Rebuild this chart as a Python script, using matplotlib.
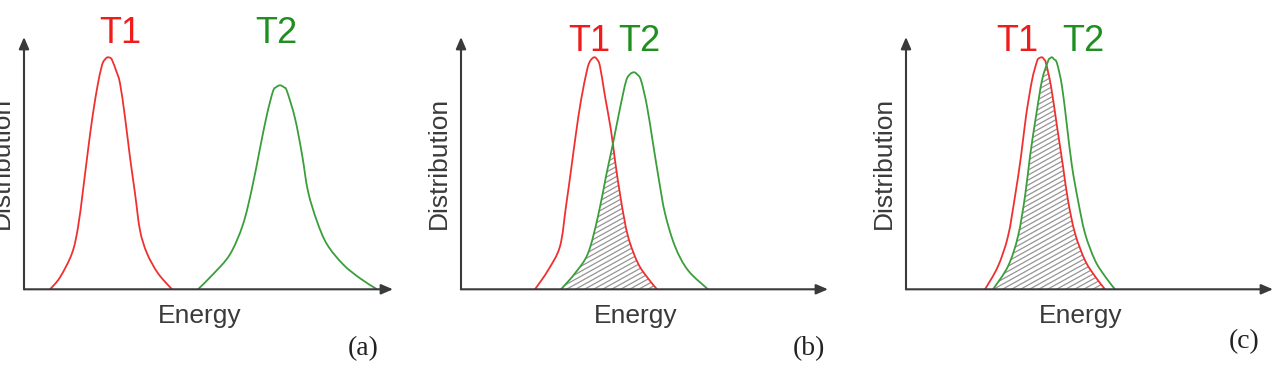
import matplotlib
matplotlib.use("Agg")
import numpy as np
import matplotlib.pyplot as plt
from matplotlib.path import Path
from matplotlib.patches import PathPatch
from matplotlib.collections import LineCollection

plt.rcParams["font.family"] = ["Liberation Sans", "DejaVu Sans"]

# Traced curves: energy (arbitrary units) and distribution height
# panel (a): well separated
a_t1_energy = [26, 36, 48, 54, 59, 64, 69, 74, 77, 79, 82, 84, 87, 89, 92, 96, 101, 106, 111, 116, 123, 134, 148]
a_t1_dist = [0, 12, 36, 62, 99, 139, 176, 206, 220, 227, 231, 232, 231, 227, 219, 206, 172, 132, 96, 59, 36, 16, 0]
a_t2_energy = [174, 189, 206, 219, 228, 236, 243, 249, 252, 256, 260, 263, 271, 278, 284, 293, 303, 319, 336, 353]
a_t2_dist = [0, 15, 35, 65, 101, 141, 175, 198, 202, 204, 202, 198, 171, 135, 98, 68, 45, 25, 11, 0]

# panel (b): partial overlap
b_t1_energy = [74, 87, 99, 105, 110, 115, 120, 126, 129, 133, 136, 139, 144, 150, 154, 160, 167, 177, 187, 196]
b_t1_dist = [0, 19, 43, 83, 119, 156, 189, 219, 228, 232, 230, 223, 193, 159, 129, 89, 53, 26, 11, 0]
b_t2_energy = [100, 114, 127, 137, 145, 152, 159, 165, 169, 173, 176, 180, 186, 192, 198, 204, 214, 227, 247]
b_t2_dist = [0, 16, 36, 73, 113, 146, 181, 208, 215, 217, 215, 209, 183, 146, 109, 76, 43, 19, 0]

# panel (c): almost full overlap
c_t1_energy = [79, 92, 102, 109, 115, 120, 126, 131, 133, 136, 138, 140, 145, 151, 157, 162, 169, 179, 189, 199]
c_t1_dist = [0, 23, 53, 93, 133, 173, 209, 228, 231, 232, 230, 226, 203, 163, 123, 89, 56, 29, 13, 0]
c_t2_energy = [87, 102, 112, 119, 124, 130, 136, 142, 144, 146, 148, 151, 156, 161, 166, 172, 179, 189, 199, 209]
c_t2_dist = [0, 23, 53, 93, 133, 173, 209, 228, 231, 232, 230, 226, 203, 163, 123, 89, 56, 29, 13, 0]

panel_tags = ["(a)", "(b)", "(c)"]

RED = "#f03030"
GREEN = "#3a9e3a"
RED_TXT = "#f01c1c"
GREEN_TXT = "#1f8f1f"
AXC = "#3a3a3a"
HATCH = "#959595"

W, H = 1276, 375
BASE = 289.3
TOP = 37

fig = plt.figure(figsize=(W / 100, H / 100), dpi=100)


def fx(px):
    return px / W


def fy(py):
    return 1 - py / H


def smooth_path(xs, ys):
    # catmull-rom through the traced points, as cubic bezier segments
    pts = np.column_stack([xs, ys]).astype(float)
    n = len(pts)
    verts = [pts[0]]
    codes = [Path.MOVETO]
    for i in range(n - 1):
        p0 = pts[max(i - 1, 0)]
        p1 = pts[i]
        p2 = pts[i + 1]
        p3 = pts[min(i + 2, n - 1)]
        verts += [p1 + (p2 - p0) / 6, p2 - (p3 - p1) / 6, p2]
        codes += [Path.CURVE4] * 3
    return verts, codes


def closed(xs, ys):
    v, c = smooth_path(xs, ys)
    return Path(v + [v[0]], c + [Path.CLOSEPOLY])


def draw_panel(x0, x1, e1, d1, e2, d2, overlap, t1x, t2x, tly, ex, tag, tagx, tagy):
    w, h = x1 - x0, BASE - TOP
    ax = fig.add_axes([fx(x0), fy(BASE), w / W, h / H])
    ax.set_xlim(0, w)
    ax.set_ylim(0, h)
    ax.axis("off")

    if overlap:
        red_shape = PathPatch(closed(e1, d1), transform=ax.transData)
        # hatch lines, clipped to the area under T1
        k = np.tan(np.radians(29))
        segs = [[(0, c), (w, c + k * w)] for c in np.arange(-k * w, h, 5.0)]
        hatch = LineCollection(segs, colors=HATCH, linewidths=0.9, zorder=1)
        ax.add_collection(hatch)
        hatch.set_clip_path(red_shape)
        # white out everything under T1 that is not under T2
        gv, gc = smooth_path(e2, d2)
        rect = [(-20, -20), (w + 20, -20), (w + 20, h + 20), (-20, h + 20), (-20, -20)]
        rc = [Path.MOVETO, Path.LINETO, Path.LINETO, Path.LINETO, Path.CLOSEPOLY]
        # green outline goes clockwise, rectangle anticlockwise -> hole
        mask = PathPatch(Path(rect + gv + [gv[0]], rc + gc + [Path.CLOSEPOLY]),
                         facecolor="white", edgecolor="none", zorder=1.5)
        ax.add_patch(mask)
        mask.set_clip_path(PathPatch(closed(e1, d1), transform=ax.transData))

    v1, c1 = smooth_path(e1, d1)
    v2, c2 = smooth_path(e2, d2)
    ax.add_patch(PathPatch(Path(v1, c1), fill=False, edgecolor=RED, lw=1.3,
                           clip_on=False, zorder=3))
    ax.add_patch(PathPatch(Path(v2, c2), fill=False, edgecolor=GREEN, lw=1.3,
                           clip_on=False, zorder=3))

    arrow = dict(arrowstyle="-|>,head_length=0.7,head_width=0.3", lw=1.5,
                 color=AXC, shrinkA=0, shrinkB=0)
    ax.annotate("", xy=(w, 0), xytext=(0, 0), arrowprops=arrow,
                annotation_clip=False, zorder=4)
    ax.annotate("", xy=(0, h), xytext=(0, 0), arrowprops=arrow,
                annotation_clip=False, zorder=4)

    fig.text(fx(t1x), fy(tly), "T1", color=RED_TXT, fontsize=26, ha="center", va="baseline")
    fig.text(fx(t2x), fy(tly), "T2", color=GREEN_TXT, fontsize=26, ha="center", va="baseline")
    fig.text(fx(ex), fy(323), "Energy", color=AXC, fontsize=19, ha="center", va="baseline")
    fig.text(fx(x0 - 10.5), fy(163), "Distribution", color=AXC, fontsize=19,
             rotation=90, ha="right", va="center")
    fig.text(fx(tagx), fy(tagy), tag, fontsize=20, family="Liberation Serif",
             color="#222222", ha="center", va="baseline")


draw_panel(24, 393, a_t1_energy, a_t1_dist, a_t2_energy, a_t2_dist, False,
           120, 276, 43, 200, panel_tags[0], 363, 355)
draw_panel(461, 828, b_t1_energy, b_t1_dist, b_t2_energy, b_t2_dist, True,
           589, 639, 51, 636, panel_tags[1], 809, 355)
draw_panel(906, 1273, c_t1_energy, c_t1_dist, c_t2_energy, c_t2_dist, True,
           1017, 1083, 51, 1081, panel_tags[2], 1244, 348)

fig.savefig("out.png", dpi=100)
